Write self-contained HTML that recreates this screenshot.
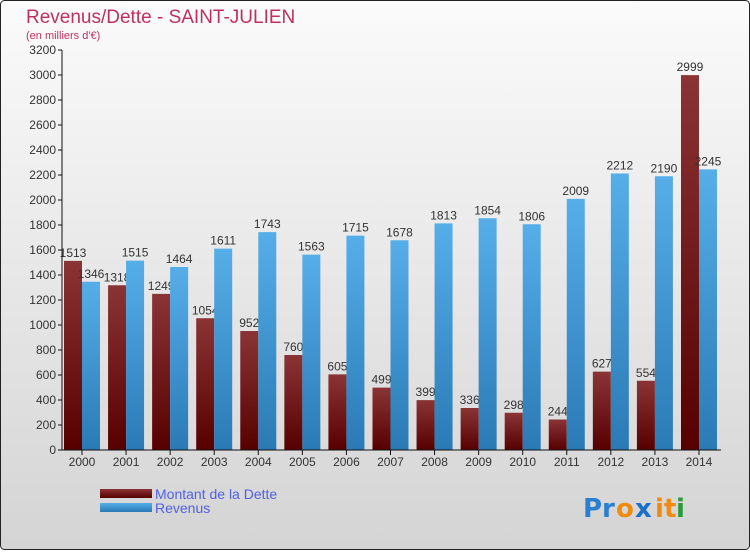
<!DOCTYPE html>
<html><head><meta charset="utf-8"><style>
body{margin:0;width:750px;height:550px;overflow:hidden;font-family:"Liberation Sans",sans-serif}
</style></head><body>
<svg id="chart" width="750" height="550" xmlns="http://www.w3.org/2000/svg">
<defs>
<linearGradient id="bg" x1="0" y1="0" x2="0" y2="1"><stop offset="0" stop-color="#fbfbfb"/><stop offset="1" stop-color="#d4d4d4"/></linearGradient>
<linearGradient id="red" x1="0" y1="0" x2="0" y2="1"><stop offset="0" stop-color="#8a3436"/><stop offset="1" stop-color="#560000"/></linearGradient>
<linearGradient id="blue" x1="0" y1="0" x2="0" y2="1"><stop offset="0" stop-color="#56aee8"/><stop offset="1" stop-color="#2a7ab5"/></linearGradient>
</defs>
<rect x="0.5" y="0.5" width="749" height="549" rx="4" fill="url(#bg)" stroke="#222"/>
<text x="26" y="23" font-size="19" fill="#c0305e">Revenus/Dette - SAINT-JULIEN</text>
<text x="26" y="39" font-size="11" fill="#c0305e">(en milliers d'€)</text>
<g id="grid"></g><g id="bars"></g>
<line x1="62" y1="50" x2="62" y2="450" stroke="#111"/>
<line x1="62" y1="450" x2="721" y2="450" stroke="#111"/>
<rect x="100" y="489" width="52" height="9" fill="url(#red)"/>
<text x="155" y="499" font-size="14" fill="#5060e8">Montant de la Dette</text>
<rect x="100" y="503" width="52" height="9" fill="url(#blue)"/>
<text x="155" y="513" font-size="14" fill="#5060e8">Revenus</text>
<g font-size="26" font-weight="bold" font-family="'DejaVu Sans',sans-serif">
<text x="583" y="517" fill="#2a7fd0">Pr</text><text x="616" y="517" fill="#f08a10">o</text><text x="635" y="517" fill="#1a6fc8">x</text><text x="655" y="517" fill="#f08a10">i</text><text x="664" y="517" fill="#f08a10">t</text><text x="676" y="517" fill="#2a9a3a">i</text>
</g>
</svg>
<script>
const years=["2000","2001","2002","2003","2004","2005","2006","2007","2008","2009","2010","2011","2012","2013","2014"];
const dette=[1513,1318,1249,1054,952,760,605,499,399,336,298,244,627,554,2999];
const revenus=[1346,1515,1464,1611,1743,1563,1715,1678,1813,1854,1806,2009,2212,2190,2245];
const yTicks=[0,200,400,600,800,1000,1200,1400,1600,1800,2000,2200,2400,2600,2800,3000,3200];
const NS="http://www.w3.org/2000/svg";
const y=v=>450-v*400/3200;
const cx=i=>82+i*44.07;
function mk(t,a,p,txt){const e=document.createElementNS(NS,t);for(const k in a)e.setAttribute(k,a[k]);if(txt!=null)e.textContent=txt;p.appendChild(e);return e;}
const grid=document.getElementById('grid'),bars=document.getElementById('bars');
yTicks.forEach(v=>{
 const t=mk('line',{x1:58,x2:62,y1:y(v),y2:y(v),stroke:'#111'},grid);
 
 
 const l=mk('text',{x:56,y:y(v)+4,'font-size':12,'text-anchor':'end',fill:'#333'},grid,String(v));
 
 
});
years.forEach((yr,i)=>{
 const c=cx(i);
 const tk=mk('line',{x1:c,x2:c,y1:450,y2:455,stroke:'#111'},grid);
 
 
 const xl=mk('text',{x:c,y:466,'font-size':12,'text-anchor':'middle',fill:'#333'},grid,yr);
 
 
 const r=mk('rect',{x:c-18,y:y(dette[i]),width:18,height:450-y(dette[i]),fill:'url(#red)'},bars);
 
 
 const rl=mk('text',{x:c-9,y:y(dette[i])-4,'font-size':12,'text-anchor':'middle',fill:'#333'},bars,String(dette[i]));
 
 
});
years.forEach((yr,i)=>{
 const c=cx(i);
 const b=mk('rect',{x:c,y:y(revenus[i]),width:18,height:450-y(revenus[i]),fill:'url(#blue)'},bars);
 
 
 const bl=mk('text',{x:c+9,y:y(revenus[i])-4,'font-size':12,'text-anchor':'middle',fill:'#333'},bars,String(revenus[i]));
 
 
});
</script>
</body></html>
